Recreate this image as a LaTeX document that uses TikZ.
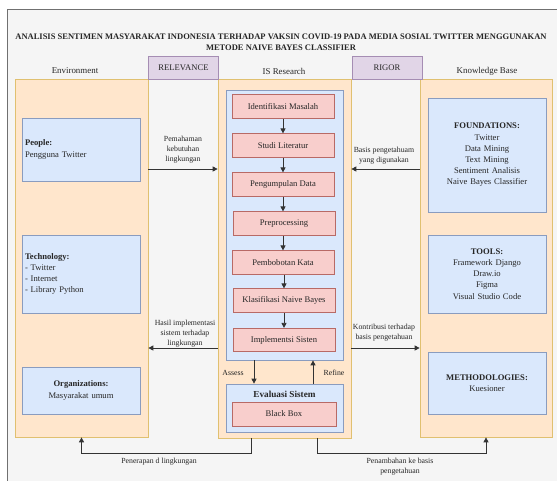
\documentclass[tikz,border=0pt]{standalone}
\usepackage{fontspec}
\setmainfont{Liberation Serif}
\usepackage{tikz}
\usetikzlibrary{calc,arrows.meta,positioning}

\definecolor{bgF}{HTML}{F5F5F5}
\definecolor{bgS}{HTML}{707070}
\definecolor{orF}{HTML}{FFE6CC}
\definecolor{orS}{HTML}{E0C070}
\definecolor{blF}{HTML}{DAE8FC}
\definecolor{blS}{HTML}{8A9CBF}
\definecolor{pkF}{HTML}{F8CECC}
\definecolor{pkS}{HTML}{B86A66}
\definecolor{puF}{HTML}{E1D5E7}
\definecolor{puS}{HTML}{A58DB3}
\definecolor{lnC}{HTML}{333333}

\newcommand{\fb}{\fontsize{8.6}{11.2}\selectfont}
\newcommand{\fl}{\fontsize{7.8}{9.8}\selectfont}

\tikzset{
  col/.style={draw=orS, fill=orF, line width=0.7pt, inner sep=0pt},
  blk/.style={draw=blS, fill=blF, line width=0.7pt, inner sep=3pt, font=\fb, text=black!85},
  stp/.style={draw=pkS, fill=pkF, line width=0.7pt, inner sep=0pt, minimum width=102pt,
    minimum height=23.5pt, font=\fb, text=black!85},
  tag/.style={draw=puS, fill=puF, line width=0.7pt, inner sep=0pt, minimum width=70pt,
    minimum height=23pt, font=\fb, text=black!85},
  flow/.style={draw=lnC, line width=0.8pt, -{Triangle[length=5pt,width=5pt]}},
  lbl/.style={font=\fl, align=center, text=black!85},
  hd/.style={font=\fontsize{8.9}{10}\selectfont, text=black!85}
}

\begin{document}
\begin{tikzpicture}[x=1pt,y=-1pt]
    \useasboundingbox (0,0) rectangle (557,480);
    \fill[bgF, draw=bgS, line width=0.8pt] (7,9) rectangle (566,490);
    % title
    \node (title) at (281,42) [align=center, font=\bfseries\fontsize{8.5}{11.5}\selectfont, text=black!85]
      {ANALISIS SENTIMEN MASYARAKAT INDONESIA TERHADAP VAKSIN COVID-19 PADA MEDIA SOSIAL TWITTER MENGGUNAKAN\\
       METODE NAIVE BAYES CLASSIFIER};
    % columns
    \node (env) at (81.5,258) [col, minimum width=133pt, minimum height=358pt] {};
    \node (isr) at (284.5,258.5) [col, minimum width=133pt, minimum height=359pt] {};
    \node (kb) at (486,258) [col, minimum width=132pt, minimum height=358pt] {};
    \node (rel) at (183.5,67.5) [tag] {RELEVANCE};
    \node (rig) at (387,67.5) [tag] {RIGOR};
    \node at (75,71) [hd] {Environment};
    \node at (284,71) [hd] {IS Research};
    \node at (487,71) [hd] {Knowledge Base};
    % environment
    \node (peo) at (81,149.5) [blk, text width=112pt, minimum height=63pt, align=left]
      {\textbf{People:}\\Pengguna Twitter};
    \node (tec) at (81,274) [blk, text width=112pt, minimum height=78pt, align=left]
      {\textbf{Technology:}\\- Twitter\\- Internet\\- Library Python};
    \node (org) at (81,390.5) [blk, text width=112pt, minimum height=47pt, align=center]
      {\textbf{Organizations:}\\Masyarakat umum};
    % knowledge base
    \node (fnd) at (487,155) [blk, text width=112pt, minimum height=114pt, align=center]
      {\textbf{FOUNDATIONS:}\\Twitter\\Data Mining\\Text Mining\\Sentiment Analisis\\Naive Bayes Classifier};
    \node (tls) at (487,274) [blk, text width=112pt, minimum height=78pt, align=center]
      {\textbf{TOOLS:}\\Framework Django\\Draw.io\\Figma\\Visual Studio Code};
    \node (mth) at (487,383) [blk, text width=112pt, minimum height=62pt, align=center]
      {\textbf{METHODOLOGIES:}\\Kuesioner};
    % is research
    \node (blu) at (284.5,225) [blk, inner sep=0pt, minimum width=117pt, minimum height=270pt] {};
    \node (p1) at (283,106.5) [stp] {Identifikasi Masalah};
    \node (p2) at (283,145.5) [stp] {Studi Literatur};
    \node (p3) at (283,184.5) [stp] {Pengumpulan Data};
    \node (p4) at (284,223.5) [stp] {Preprocessing};
    \node (p5) at (283,262.5) [stp] {Pembobotan Kata};
    \node (p6) at (284,300.5) [stp] {Klasifikasi Naive Bayes};
    \node (p7) at (284,340) [stp] {Implementsi Sisten};
    \draw[flow] (p1) -- (p2);
    \draw[flow] (p2) -- (p3);
    \draw[flow] (p3.south) -- (p3.south |- p4.north);
    \draw[flow] (p4.south -| p5) -- (p5);
    \draw[flow] (p5.south -| p6) -- (p6);
    \draw[flow] (p6) -- (p7);
    \node (evl) at (284.5,408) [blk, inner sep=0pt, minimum width=117pt, minimum height=48pt] {};
    \node at (284.5,394) [font=\bfseries\fontsize{9.2}{11}\selectfont, text=black!85] {Evaluasi Sistem};
    \node (bbx) at (284,414) [stp, minimum width=104pt, minimum height=24pt] {Black Box};
    \coordinate (ca) at (254,0);
    \coordinate (cr) at (313,0);
    \draw[flow] (blu.south -| ca) -- (evl.north -| ca);
    \draw[flow] (evl.north -| cr) -- (blu.south -| cr);
    \node at (233,373) [lbl] {Assess};
    \node at (334,373) [lbl] {Refine};
    % side connectors
    \coordinate (r1) at (0,169);
    \coordinate (r2) at (0,348);
    \draw[flow] (env.east |- r1) -- (isr.west |- r1);
    \draw[flow] (kb.west |- r1) -- (isr.east |- r1);
    \draw[flow] (isr.west |- r2) -- (env.east |- r2);
    \draw[flow] (isr.east |- r2) -- (kb.west |- r2);
    \node at (183,149.5) [lbl] {Pemahaman\\kebutuhan\\lingkungan};
    \node at (384,156) [lbl] {Basis pengetahuam\\yang digunakan};
    \node at (185,333.5) [lbl] {Hasil implementasi\\sistem terhadap\\lingkungan};
    \node at (384,332.5) [lbl] {Kontribusi terhadap\\basis pengetahuan};
    % bottom connectors
    \coordinate (b1) at (251,453);
    \coordinate (b2) at (317,453);
    \draw[flow] (b1 |- isr.south) -- (b1) -| (env.south);
    \draw[flow] (b2 |- isr.south) -- (b2) -| (kb.south);
    \node at (159,462) [lbl] {Penerapan d lingkungan};
    \node at (400,466.5) [lbl] {Penambahan ke basis\\pengetahuan};
\end{tikzpicture}
\end{document}
